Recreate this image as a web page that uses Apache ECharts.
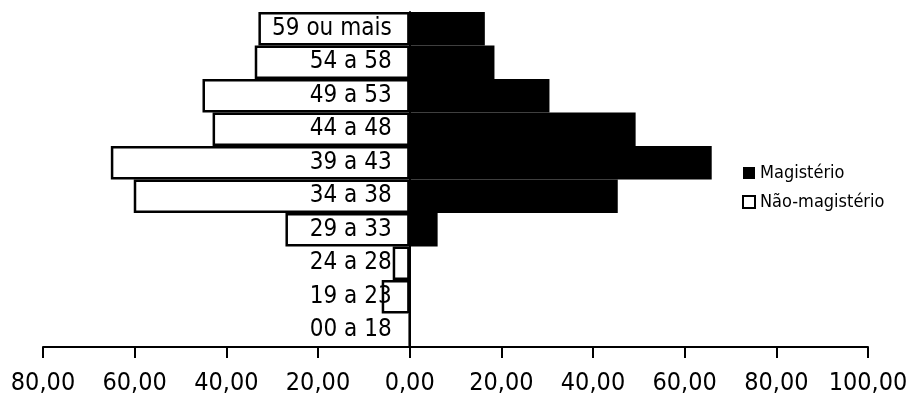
<!DOCTYPE html>
<html><head><meta charset="utf-8">
<script src="https://cdn.jsdelivr.net/npm/echarts@6/dist/echarts.min.js"></script>
<style>html,body{margin:0;padding:0;background:#fff}#c{width:911px;height:401px}</style>
</head><body><div id="c"></div>
<script>
const categories = ['00 a 18','19 a 23','24 a 28','29 a 33','34 a 38','39 a 43','44 a 48','49 a 53','54 a 58','59 ou mais'];
const magisterio = [0, 0, 0, 6.1, 45.4, 65.9, 49.3, 30.5, 18.5, 16.4];
const naoMagisterio = [0, 6.1, 3.7, 27.1, 60.2, 65.2, 43.0, 45.2, 33.8, 33.0];
const tickLabels = ['80,00','60,00','40,00','20,00','0,00','20,00','40,00','60,00','80,00','100,00'];
const FONT = 'DejaVu Sans Condensed';
const X_MIN = -80, X_MAX = 100;
const GRID_L = 43, GRID_R = 43, W = 911;
const plotW = W - GRID_L - GRID_R;
const zeroOffset = -plotW * (0 - X_MIN) / (X_MAX - X_MIN);
const chart = echarts.init(document.getElementById('c'), null, {renderer:'canvas'});
chart.setOption({
  animation:false,
  backgroundColor:'#fff',
  grid:{left:GRID_L,right:GRID_R,top:12,bottom:54,containLabel:false,outerBoundsMode:'none'},
  legend:{
    orient:'vertical', left:737, top:159, itemWidth:12, itemHeight:12, itemGap:11,
    textStyle:{fontFamily:FONT,fontSize:18,color:'#000'},
    data:[{name:'Magistério',icon:'rect'},{name:'Não-magistério',icon:'rect'}]
  },
  xAxis:{
    type:'value', min:X_MIN, max:X_MAX, interval:20,
    splitLine:{show:false},
    axisLine:{show:true,onZero:false,lineStyle:{color:'#000',width:2}},
    axisTick:{show:true,length:11,lineStyle:{color:'#000',width:2}},
    axisLabel:{fontFamily:FONT,fontSize:25,color:'#000',margin:24,
      formatter:(v)=>tickLabels[Math.round((v-X_MIN)/20)]}
  },
  yAxis:{
    type:'category', data:categories, z:5, offset:zeroOffset,
    axisLine:{show:true,onZero:false,lineStyle:{color:'#000',width:2}},
    axisTick:{show:false},
    axisLabel:{fontFamily:FONT,fontSize:24,color:'#000',margin:18}
  },
  series:[
    {name:'Não-magistério',type:'bar',data:naoMagisterio.map(v=>-v),
     barGap:'-100%',barCategoryGap:0,
     itemStyle:{color:'#fff',borderColor:'#000',borderWidth:2.5}},
    {name:'Magistério',type:'bar',data:magisterio,
     barGap:'-100%',barCategoryGap:0,
     itemStyle:{color:'#000',borderColor:'#000',borderWidth:0}}
  ]
});
</script></body></html>
